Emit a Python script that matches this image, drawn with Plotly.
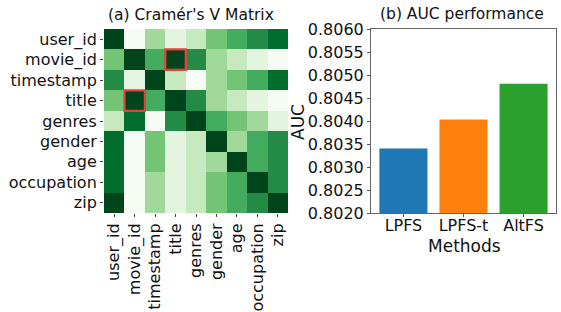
import plotly.graph_objects as go

features = ["user_id", "movie_id", "timestamp", "title", "genres",
            "gender", "age", "occupation", "zip"]

cramers_v = [
    [1.00, 0.02, 0.375, 0.13, 0.25, 0.50, 0.62, 0.75, 0.87],
    [0.50, 1.00, 0.62, 1.00, 0.75, 0.375, 0.25, 0.13, 0.02],
    [0.75, 0.12, 1.00, 0.25, 0.00, 0.375, 0.50, 0.62, 0.87],
    [0.50, 1.00, 0.62, 1.00, 0.75, 0.375, 0.25, 0.13, 0.02],
    [0.25, 0.87, 0.01, 0.75, 1.00, 0.62, 0.50, 0.375, 0.13],
    [0.87, 0.02, 0.50, 0.13, 0.25, 1.00, 0.375, 0.62, 0.75],
    [0.87, 0.02, 0.50, 0.13, 0.25, 0.375, 1.00, 0.62, 0.75],
    [0.87, 0.02, 0.375, 0.13, 0.25, 0.50, 0.62, 1.00, 0.75],
    [1.00, 0.02, 0.375, 0.13, 0.25, 0.50, 0.62, 0.75, 1.00],
]

highlight_cells = [("movie_id", "title"), ("title", "movie_id")]  # (row, col)

methods = ["LPFS", "LPFS-t", "AltFS"]
auc = [0.80340, 0.80403, 0.80481]
bar_colors = ["#1f77b4", "#ff7f0e", "#2ca02c"]
auc_ticks = [0.8020, 0.8025, 0.8030, 0.8035, 0.8040, 0.8045, 0.8050, 0.8055, 0.8060]

W, H = 561, 312
FONT = "DejaVu Sans"
FS = 16

def fx(px):
    return px / W

def fy(py):
    return 1 - py / H

fig = go.Figure()

fig.add_trace(go.Heatmap(
    z=cramers_v, x=features, y=features,
    colorscale="Greens", zmin=0, zmax=1, showscale=False,
    xaxis="x", yaxis="y", hoverinfo="skip",
))

fig.add_trace(go.Bar(
    x=methods, y=auc, marker=dict(color=bar_colors, line=dict(width=0)),
    width=0.8, xaxis="x2", yaxis="y2",
))

shapes = []
for r, c in highlight_cells:
    ri = features.index(r)
    ci = features.index(c)
    shapes.append(dict(type="rect", xref="x", yref="y",
                       x0=ci - 0.5, x1=ci + 0.5, y0=ri - 0.5, y1=ri + 0.5,
                       line=dict(color="#e8413c", width=2.2)))

tickfont = dict(family=FONT, size=FS, color="#111")

fig.update_layout(
    width=W, height=H,
    margin=dict(l=0, r=0, t=0, b=0),
    paper_bgcolor="white", plot_bgcolor="white",
    showlegend=False,
    font=dict(family=FONT, size=FS, color="#111"),
    xaxis=dict(domain=[fx(104), fx(288)], anchor="y",
               tickmode="array", tickvals=features, ticktext=features,
               tickangle=-90, ticks="outside", ticklen=3, tickcolor="#444",
               tickfont=tickfont, showgrid=False, zeroline=False,
               showline=False, automargin=False, range=[-0.5, 8.5]),
    yaxis=dict(domain=[fy(213), fy(29)], anchor="x",
               tickmode="array", tickvals=features, ticktext=features,
               ticks="outside", ticklen=3, tickcolor="#444",
               tickfont=tickfont, showgrid=False, zeroline=False,
               showline=False, automargin=False, range=[8.5, -0.5]),
    xaxis2=dict(domain=[fx(371), fx(556)], anchor="y2",
                range=[-0.54, 2.54], ticks="outside", ticklen=3,
                ticklabelstandoff=-5,
                tickcolor="#555", tickfont=tickfont,
                showline=True, linecolor="#666", linewidth=1, mirror=True,
                showgrid=False, zeroline=False, automargin=False),
    yaxis2=dict(domain=[fy(213), fy(29)], anchor="x2",
                range=[0.8020, 0.8060], tickmode="array", tickvals=auc_ticks,
                ticktext=[f"{t:.4f}" for t in auc_ticks],
                ticks="outside", ticklen=3, tickcolor="#555",
                tickfont=tickfont,
                showline=True, linecolor="#666", linewidth=1, mirror=True,
                showgrid=False, zeroline=False, automargin=False),
    shapes=shapes,
    annotations=[
        dict(text="(a) Cramér's V Matrix", x=fx(191), y=fy(15),
             xref="paper", yref="paper", showarrow=False,
             xanchor="center", yanchor="middle",
             font=dict(family=FONT, size=15.5, color="#111")),
        dict(text="(b) AUC performance", x=fx(462), y=fy(14),
             xref="paper", yref="paper", showarrow=False,
             xanchor="center", yanchor="middle",
             font=dict(family=FONT, size=15.5, color="#111")),
        dict(text="AUC", x=fx(298), y=fy(122), textangle=-90,
             xref="paper", yref="paper", showarrow=False,
             xanchor="center", yanchor="middle",
             font=dict(family=FONT, size=FS + 1, color="#111")),
        dict(text="Methods", x=fx(464), y=fy(246),
             xref="paper", yref="paper", showarrow=False,
             xanchor="center", yanchor="middle",
             font=dict(family=FONT, size=FS + 1, color="#111")),
    ],
)

fig.write_html(
    "out.html",
    config={"displayModeBar": False},
    post_script="document.body.style.margin='0';document.body.style.overflow='hidden';",
)
